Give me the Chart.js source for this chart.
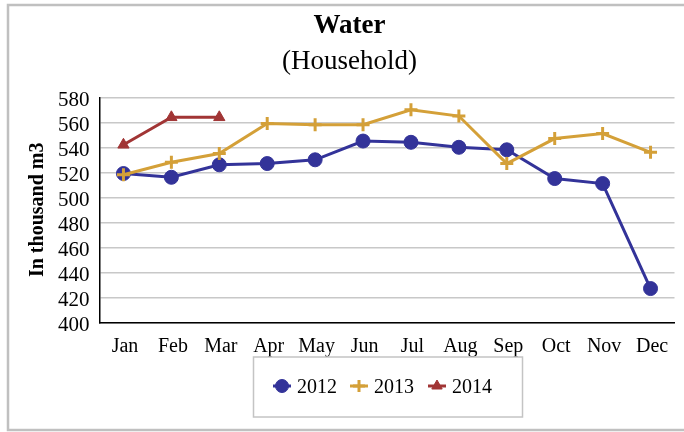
<!DOCTYPE html>
<html>
<head>
<meta charset="utf-8">
<script src="https://cdn.jsdelivr.net/npm/chart.js@4/dist/chart.umd.min.js"></script>
<style>
  html, body { margin: 0; padding: 0; background: #ffffff; }
  #wrap { position: relative; width: 684px; height: 432px; }
</style>
</head>
<body>
<div id="wrap"><canvas id="c" width="684" height="432"></canvas></div>
<script>
// Monthly household water use, in thousand m3
const months = ['Jan', 'Feb', 'Mar', 'Apr', 'May', 'Jun', 'Jul', 'Aug', 'Sep', 'Oct', 'Nov', 'Dec'];
const years = ['2012', '2013', '2014'];
const water2012 = [519, 516, 526, 527, 530, 545, 544, 540, 538, 515, 511, 427];
const water2013 = [518, 528, 535, 559, 558, 558, 570, 565, 527, 547, 551, 536];
const water2014 = [542, 564, 564];
const yMin = 400, yMax = 580, yStep = 20;

const FONT = '"Liberation Serif", "Times New Roman", serif';
const colors = ['#333399', '#D4A038', '#A13535'];
const markers = [
  { pointStyle: 'circle', radius: 7, borderWidth: 1 },
  { pointStyle: 'cross', radius: 6.5, borderWidth: 3 },
  { pointStyle: 'triangle', radius: 6.5, borderWidth: 1 }
];

const seriesValues = [water2012, water2013, water2014];
const datasets = years.map((y, i) => ({
  label: y,
  data: seriesValues[i],
  borderColor: colors[i],
  backgroundColor: colors[i],
  borderWidth: 3,
  tension: 0,
  pointStyle: markers[i].pointStyle,
  pointRadius: markers[i].radius,
  pointHoverRadius: markers[i].radius,
  pointBorderWidth: markers[i].borderWidth,
  pointBackgroundColor: colors[i],
  pointBorderColor: colors[i],
  order: 3 - i
}));

// Outer frame around the whole figure
const framePlugin = {
  id: 'frame',
  beforeDraw(chart) {
    const ctx = chart.ctx;
    ctx.save();
    ctx.fillStyle = '#ffffff';
    ctx.fillRect(0, 0, chart.width, chart.height);
    ctx.strokeStyle = '#c0c0c0';
    ctx.lineWidth = 2.5;
    ctx.strokeRect(8, 5, chart.width + 4, chart.height - 7);
    ctx.restore();
  }
};

// Boxed legend under the plot: line sample + marker + year
const boxedLegend = {
  id: 'boxedLegend',
  afterDraw(chart) {
    const ctx = chart.ctx;
    const box = { left: 253.5, top: 357, right: 522.5, bottom: 417 };
    const cy = 386;
    const itemX = [282, 359, 437];
    ctx.save();
    ctx.strokeStyle = '#c4c4c4';
    ctx.lineWidth = 1.5;
    ctx.strokeRect(box.left, box.top, box.right - box.left, box.bottom - box.top);
    chart.data.datasets.forEach((ds, i) => {
      const x = itemX[i];
      ctx.strokeStyle = ds.borderColor;
      ctx.fillStyle = ds.backgroundColor;
      ctx.lineWidth = 3;
      ctx.beginPath();
      ctx.moveTo(x - 9, cy);
      ctx.lineTo(x + 9, cy);
      ctx.stroke();
      ctx.lineWidth = ds.pointBorderWidth;
      Chart.helpers.drawPoint(ctx, {
        pointStyle: ds.pointStyle,
        radius: ds.pointRadius - 0.5,
        borderWidth: ds.pointBorderWidth,
        rotation: 0
      }, x, cy);
      ctx.fillStyle = '#000000';
      ctx.font = '20px ' + FONT;
      ctx.textAlign = 'left';
      ctx.textBaseline = 'alphabetic';
      ctx.fillText(ds.label, x + 15, cy + 7);
    });
    ctx.restore();
  }
};

new Chart(document.getElementById('c'), {
  type: 'line',
  data: { labels: months, datasets },
  plugins: [framePlugin, boxedLegend],
  options: {
    responsive: false,
    animation: false,
    devicePixelRatio: 1,
    layout: { padding: { left: 23, right: 8, top: 0, bottom: 0 } },
    plugins: {
      legend: { display: false },
      tooltip: { enabled: false },
      title: {
        display: true,
        text: 'Water',
        color: '#000000',
        font: { family: FONT, size: 27, weight: 'bold', lineHeight: 1.2 },
        padding: { top: 10, bottom: 0 }
      },
      subtitle: {
        display: true,
        text: '(Household)',
        color: '#000000',
        font: { family: FONT, size: 27, weight: 'normal', lineHeight: 1.2 },
        padding: { top: 3, bottom: 19.5 }
      }
    },
    scales: {
      x: {
        offset: true,
        grid: { display: false, drawTicks: false },
        border: { display: true, color: '#000000', width: 1.5 },
        ticks: {
          color: '#000000',
          font: { family: FONT, size: 20 },
          padding: 12,
          labelOffset: 1.5,
          maxRotation: 0,
          autoSkip: false
        },
        afterFit(scale) { scale.height = 109.7; }
      },
      y: {
        min: yMin,
        max: yMax,
        grid: { color: '#c8c8c8', lineWidth: 1.5, drawTicks: false },
        border: { display: true, color: '#000000', width: 1.5 },
        ticks: {
          stepSize: yStep,
          autoSkip: false,
          color: '#000000',
          font: { family: FONT, size: 21 },
          padding: 10,
          labelOffset: 3
        },
        title: {
          display: true,
          text: 'In thousand m3',
          color: '#000000',
          font: { family: FONT, size: 20, weight: 'bold', lineHeight: 1.2 },
          padding: { top: 3, bottom: 0 }
        },
        afterFit(scale) { scale.width = 76.5; }
      }
    }
  }
});
</script>
</body>
</html>
